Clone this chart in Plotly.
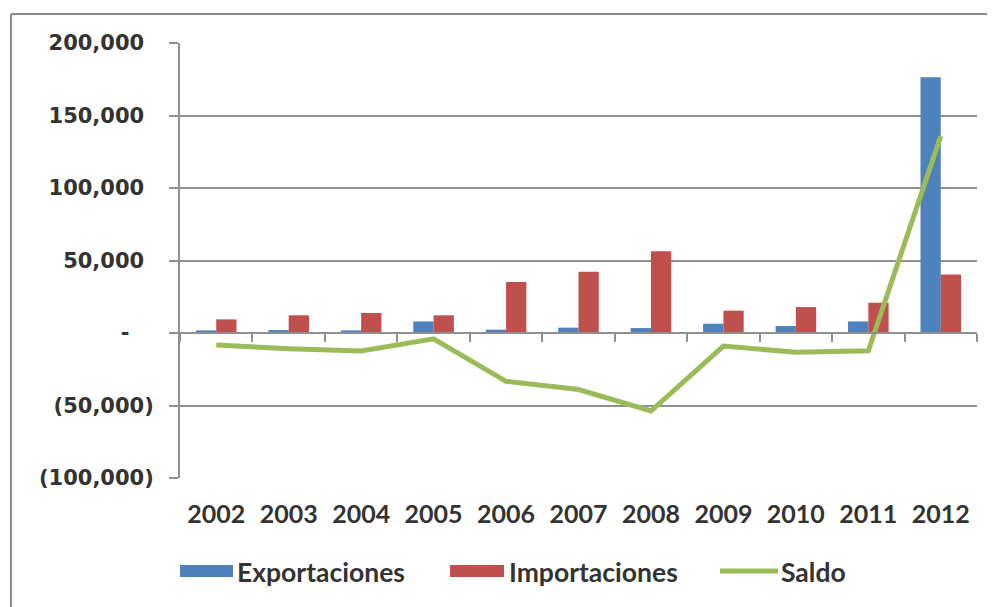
import plotly.graph_objects as go

# ---- data ----
years = ["2002", "2003", "2004", "2005", "2006", "2007", "2008", "2009", "2010", "2011", "2012"]
exportaciones = [1800, 2000, 1800, 8000, 2300, 3700, 3400, 6400, 4800, 8000, 176300]
importaciones = [9400, 12200, 13800, 12200, 35100, 42300, 56400, 15400, 17900, 20900, 40300]
saldo = [-8300, -10800, -12400, -4000, -33300, -39000, -53800, -9000, -13300, -12200, 135800]
series_names = ["Exportaciones", "Importaciones", "Saldo"]

y_tickvals = [-100000, -50000, 0, 50000, 100000, 150000, 200000]
y_ticktext = ["(100,000)", "(50,000)", "-", "50,000", "100,000", "150,000", "200,000"]

# ---- style ----
BLUE = "#4f81bd"
RED = "#c0504d"
GREEN = "#9bbb59"
GRID = "#8f8f8f"
TXT = "#333333"
OFF = 8  # page body margin offset
SW, SH = 995, 607  # screen size
W, H = SW - OFF, SH - OFF
# plot area in screen pixels
PL, PR, PT, PB = 180, 977, 43, 478
ML, MR, MT, MB = PL - OFF, W - (PR - OFF), PT - OFF, H - (PB - OFF)
PW, PH = W - ML - MR, H - MT - MB


def sx(p):
    return (p - OFF - ML) / PW


def sy(p):
    return (H - MB - (p - OFF)) / PH


def acct(label):
    # accounting-style alignment: pad with invisible characters
    pad = "<span style='color:white'>%s</span>"
    if label.startswith("("):
        return label
    if label == "-":
        return label + pad % "0)"
    return label + pad % ")"


fig = go.Figure()
fig.add_trace(go.Bar(x=years, y=exportaciones, name=series_names[0],
                     marker=dict(color=BLUE, line=dict(width=0))))
fig.add_trace(go.Bar(x=years, y=importaciones, name=series_names[1],
                     marker=dict(color=RED, line=dict(width=0))))
fig.add_trace(go.Scatter(x=years, y=saldo, name=series_names[2], mode="lines",
                         line=dict(color=GREEN, width=5), xaxis="x2"))

fig.update_layout(
    width=W, height=H,
    margin=dict(l=ML, r=MR, t=MT, b=MB, pad=0),
    paper_bgcolor="white", plot_bgcolor="white",
    showlegend=False,
    barmode="group", bargap=0.44, bargroupgap=0,
    xaxis=dict(type="category", range=[-0.5, 10.5], showgrid=False, showline=False,
               zeroline=False, ticks="", ticklabelstandoff=19,
               tickfont=dict(family="Lato", size=25, color=TXT, weight="bold")),
    xaxis2=dict(type="category", range=[-0.5, 10.5], overlaying="x", anchor="free",
                position=1/3, side="bottom", showgrid=False, showline=True,
                linecolor=GRID, linewidth=2, ticks="outside", tickson="boundaries",
                ticklen=8, tickwidth=2, tickcolor=GRID, showticklabels=False),
    yaxis=dict(range=[-100000, 200000], tickvals=y_tickvals,
               ticktext=[acct(t) for t in y_ticktext],
               showgrid=True, gridcolor=GRID, gridwidth=2, zeroline=False,
               showline=True, linecolor=GRID, linewidth=2,
               ticks="outside", ticklen=9, tickwidth=2, tickcolor=GRID,
               ticklabelstandoff=11,
               tickfont=dict(family="DejaVu Sans", size=21, color=TXT, weight="bold")),
)

shapes = []
# outer frame (extends past right / bottom edges)
shapes.append(dict(type="line", xref="paper", yref="paper",
                   x0=sx(11), x1=sx(SW + 5), y0=sy(14), y1=sy(14),
                   line=dict(color="#8a8a8a", width=2)))
shapes.append(dict(type="line", xref="paper", yref="paper",
                   x0=sx(11), x1=sx(11), y0=sy(14), y1=sy(SH + 5),
                   line=dict(color="#8a8a8a", width=2)))

# custom legend
leg_y = 571
shapes.append(dict(type="rect", xref="paper", yref="paper",
                   x0=sx(180), x1=sx(233), y0=sy(565), y1=sy(577),
                   fillcolor=BLUE, line=dict(width=0)))
shapes.append(dict(type="rect", xref="paper", yref="paper",
                   x0=sx(450), x1=sx(504), y0=sy(565), y1=sy(577),
                   fillcolor=RED, line=dict(width=0)))
shapes.append(dict(type="line", xref="paper", yref="paper",
                   x0=sx(720), x1=sx(778), y0=sy(leg_y), y1=sy(leg_y),
                   line=dict(color=GREEN, width=5)))
fig.update_layout(shapes=shapes)

annots = []
for name, xp in zip(series_names, [235, 507, 779]):
    annots.append(dict(xref="paper", yref="paper", x=sx(xp), y=sy(572),
                       xanchor="left", yanchor="middle", showarrow=False, text=name,
                       font=dict(family="Lato", size=26.5, color=TXT, weight="bold")))
fig.update_layout(annotations=annots)

fig.write_html("out.html")
